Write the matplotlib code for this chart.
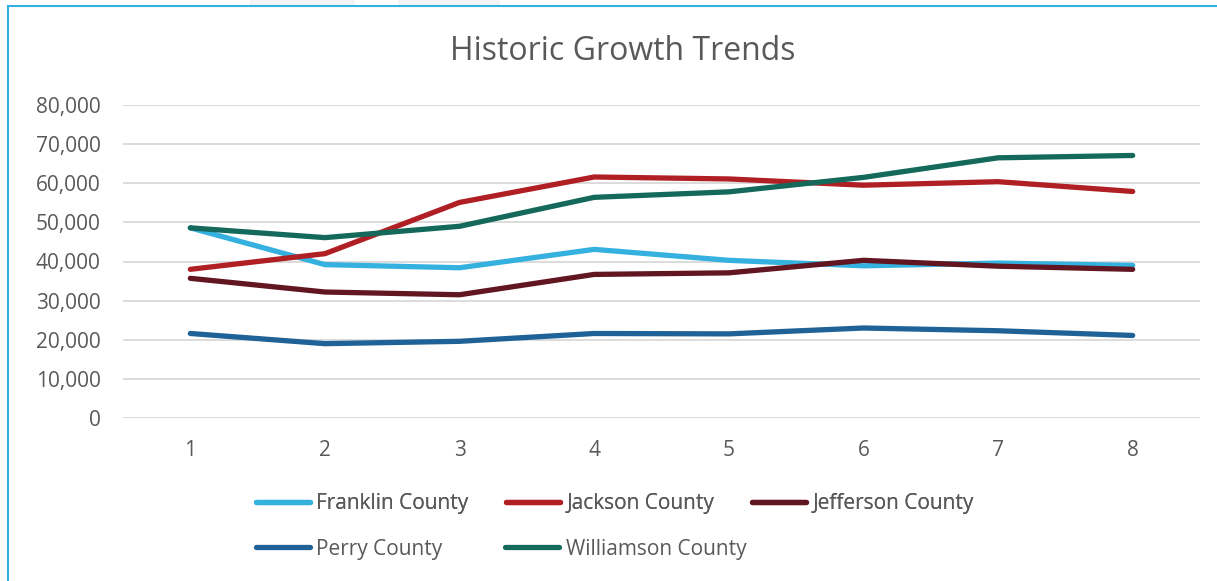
import matplotlib.pyplot as plt
from matplotlib.lines import Line2D
from matplotlib.patches import Rectangle

plt.rcParams["font.family"] = ["Open Sans", "DejaVu Sans"]

years = [1, 2, 3, 4, 5, 6, 7, 8]
franklin = [48600, 39200, 38400, 43100, 40300, 38900, 39600, 39000]
jackson = [38000, 42000, 55100, 61600, 61100, 59500, 60400, 57900]
jefferson = [35700, 32200, 31500, 36700, 37100, 40300, 38800, 38000]
perry = [21600, 19000, 19600, 21600, 21500, 23000, 22300, 21100]
williamson = [48600, 46100, 49000, 56400, 57800, 61500, 66500, 67100]

names = ["Franklin County", "Jackson County", "Jefferson County",
         "Perry County", "Williamson County"]
series = [franklin, jackson, jefferson, perry, williamson]
colors = ["#35B1DF", "#B01F24", "#621621", "#1F6297", "#14695B"]
text_col = "#595959"

W, H = 1217, 581
fig = plt.figure(figsize=(W / 100, H / 100), dpi=100)
# faint grey tabs above the chart frame
for x0, x1 in [(250, 355), (398, 500)]:
    fig.patches.append(Rectangle((x0 / W, 1 - 6 / H), (x1 - x0) / W, 6 / H,
                                 transform=fig.transFigure, color="#F4F4F4", lw=0))
# chart border, light blue on top and left
fig.patches.append(Rectangle((8 / W, -0.1), 1.2, (H - 6) / H + 0.1,
                             transform=fig.transFigure, fill=False,
                             edgecolor="#35B1DF", lw=1.5))

ax = fig.add_axes([123 / W, 1 - 418 / H, (1200 - 123) / W, (418 - 105) / H])
for name, vals, c in zip(names, series, colors):
    ax.plot(years, vals, color=c, lw=3.8, solid_capstyle="round",
            solid_joinstyle="round", label=name)

ax.set_xlim(0.5, 8.5)
ax.set_ylim(0, 80000)
ax.set_yticks(range(0, 80001, 10000))
ax.set_xticks(years)
ax.yaxis.set_major_formatter(lambda v, p: f"{int(v):,}")
ax.grid(axis="y", color="#D9D9D9", lw=1.3)
ax.set_axisbelow(True)
for s in ax.spines.values():
    s.set_visible(False)
ax.tick_params(length=0, labelsize=15, labelcolor=text_col)
ax.tick_params(axis="y", pad=16)
ax.tick_params(axis="x", pad=16)

fig.text(623 / W, 1 - 52 / H, "Historic Growth Trends", ha="center",
         va="center", fontsize=23, color=text_col)

handles = [Line2D([], [], color=c, lw=3.8, solid_capstyle="round") for c in colors]
leg_kw = dict(loc="center left", frameon=False, fontsize=15, labelcolor=text_col,
              handlelength=2.6, handletextpad=0.3, borderpad=0, borderaxespad=0)
leg1 = fig.legend(handles[:3], names[:3], ncol=3, columnspacing=1.8,
                  bbox_to_anchor=(256 / W, 1 - 504 / H), **leg_kw)
leg2 = fig.legend(handles[3:], names[3:], ncol=2, columnspacing=3.0,
                  bbox_to_anchor=(256 / W, 1 - 549 / H), **leg_kw)
fig.add_artist(leg1)

fig.savefig("out.png", dpi=100)
